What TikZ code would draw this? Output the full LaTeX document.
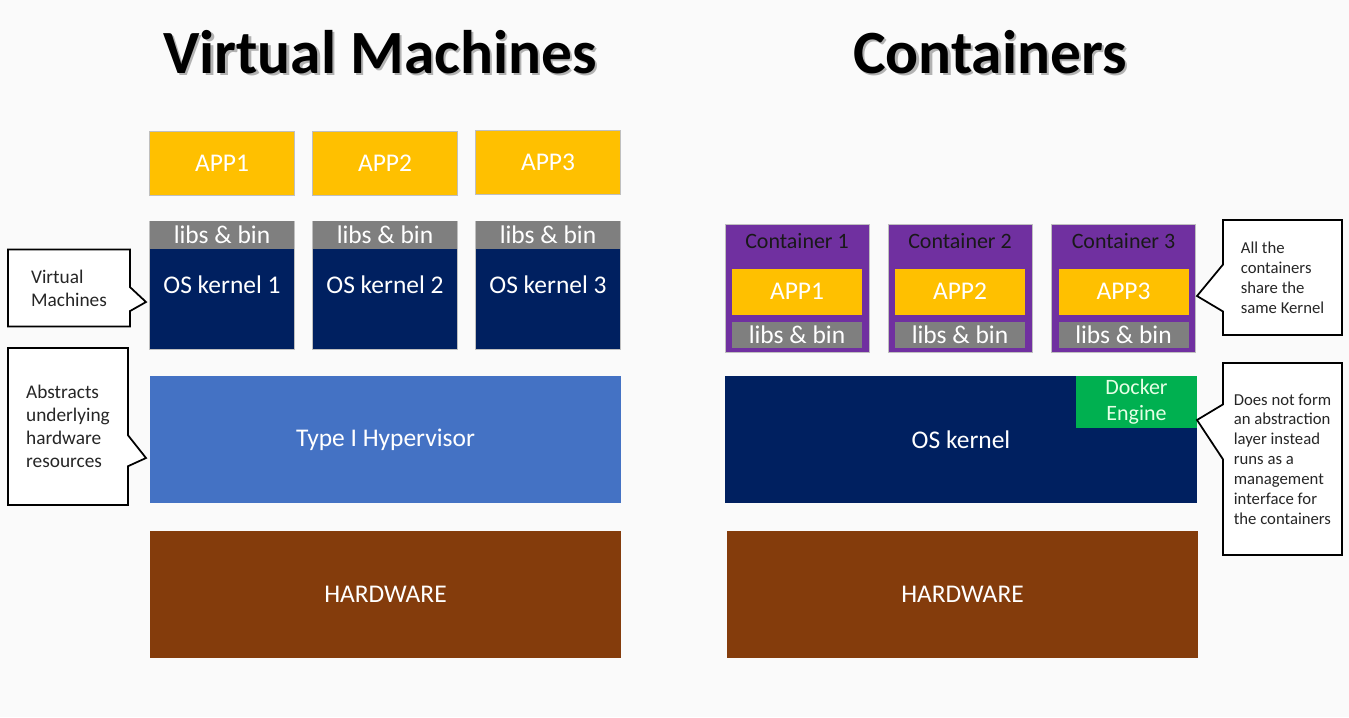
\documentclass[tikz,border=0pt]{standalone}
\usepackage{fontspec}
\setmainfont{Carlito}
\usepackage{tikz}
\usetikzlibrary{positioning,calc,shapes.callouts}
\definecolor{appyellow}{HTML}{FFC000}
\definecolor{kernnavy}{HTML}{002060}
\definecolor{libgray}{HTML}{7F7F7F}
\definecolor{hypblue}{HTML}{4472C4}
\definecolor{hwbrown}{HTML}{843C0C}
\definecolor{contpurple}{HTML}{7030A0}
\definecolor{dockgreen}{HTML}{00B050}
\definecolor{pagebg}{HTML}{FAFAFA}

\begin{document}
\begin{tikzpicture}[x=0.02cm, y=-0.02cm,
    every node/.style={font=\fontsize{14.5}{17}\selectfont, inner sep=0pt},
    title/.style={font=\fontsize{35}{40}\selectfont\bfseries, text=black},
    shadowtxt/.style={title, text=black!30},
    appbox/.style={fill=appyellow, draw=black!25, line width=0.5pt,
                   minimum width=2.9cm, minimum height=1.28cm, text=white},
    kernbox/.style={fill=kernnavy, draw=black!25, line width=0.5pt,
                    minimum width=2.9cm, minimum height=2.56cm, text=white},
    libband/.style={fill=libgray, minimum width=2.9cm, minimum height=0.56cm,
                    text=white, anchor=north},
    layer/.style={minimum width=9.42cm, minimum height=2.54cm, text=white},
    contbox/.style={fill=contpurple, draw=black!25, line width=0.5pt,
                    minimum width=2.88cm, minimum height=2.56cm},
    contlbl/.style={font=\fontsize{12.5}{15}\selectfont, text=black!90},
    capp/.style={fill=appyellow, minimum width=2.6cm, minimum height=0.92cm, text=white},
    clib/.style={fill=libgray, minimum width=2.6cm, minimum height=0.52cm, text=white},
    note/.style={rectangle callout, draw=black, line width=1pt, fill=white,
                 align=left, text=black!85},
    bignote/.style={note, font=\fontsize{11}{13}\selectfont},
    smallnote/.style={note, font=\fontsize{9.5}{11.3}\selectfont}
]

\fill[pagebg] (0,0) rectangle (1349,717);
\useasboundingbox (0,0) rectangle (1349,717);

% --- Titles ---
\node[shadowtxt] (vmshadow) at (382.5,54.5) {Virtual Machines};
\node[title] (vmtitle) at (380,52) {Virtual Machines};
\node[shadowtxt] (ctshadow) at (992.5,54.5) {Containers};
\node[title] (cttitle) at (990,52) {Containers};

% --- Virtual machines stack ---
\node[appbox] (app1) at (222,163) {APP1};
\node[appbox] (app2) at (385,163) {APP2};
\node[appbox] (app3) at (548,162) {APP3};

\node[kernbox] (kern1) at (222,285) {OS kernel 1};
\node[kernbox] (kern2) at (385,285) {OS kernel 2};
\node[kernbox] (kern3) at (548,285) {OS kernel 3};
\node[libband] (lib1) at (kern1.north) {libs \& bin};
\node[libband] (lib2) at (kern2.north) {libs \& bin};
\node[libband] (lib3) at (kern3.north) {libs \& bin};

\node[layer, fill=hypblue] (hyper) at (385.5,439.5) {Type I Hypervisor};
\node[layer, fill=hwbrown] (vmhw) at (385.5,594.5) {HARDWARE};

% --- Containers stack ---
\foreach \i/\cx in {1/797,2/960,3/1123.5} {
  \node[contbox] (cont\i) at (\cx,288) {};
  \node[contlbl] (clbl\i) at ($(cont\i.north)+(0,17)$) {Container \i};
  \node[capp] (capp\i) at ($(cont\i.north)+(0,68)$) {APP\i};
  \node[clib] (clib\i) at ($(cont\i.north)+(0,111)$) {libs \& bin};
}

\node[layer, fill=kernnavy, minimum width=9.44cm] (oskern) at (961,439.5) {OS kernel};
\node[fill=dockgreen, minimum width=2.42cm, minimum height=1.04cm, text=white!90!green,
      align=center, font=\fontsize{12.5}{14.7}\selectfont] (docker) at (1136.5,402) {Docker\\Engine};
\node[layer, fill=hwbrown] (cthw) at (962.5,594.5) {HARDWARE};

% --- Callouts ---
\node[bignote, minimum width=2.44cm, minimum height=1.54cm,
      callout absolute pointer={(146,302)}, callout pointer width=0.48cm]
      (vmnote) at (69,288) {Virtual\\Machines};
\node[bignote, minimum width=2.4cm, minimum height=3.14cm,
      callout absolute pointer={(146,458)}, callout pointer width=0.62cm]
      (hypnote) at (68,426.5) {Abstracts\\underlying\\hardware\\resources};
\node[smallnote, minimum width=2.38cm, minimum height=2.3cm,
      callout absolute pointer={(1197,296)}, callout pointer width=0.94cm]
      (kernnote) at (1282.5,277.5) {All the\\containers\\share the\\same Kernel};
\node[smallnote, minimum width=2.38cm, minimum height=3.84cm,
      callout absolute pointer={(1197,420)}, callout pointer width=1.1cm]
      (docknote) at (1282.5,459) {Does not form\\an abstraction\\layer instead\\runs as a\\management\\interface for\\the containers};

\end{tikzpicture}
\end{document}
